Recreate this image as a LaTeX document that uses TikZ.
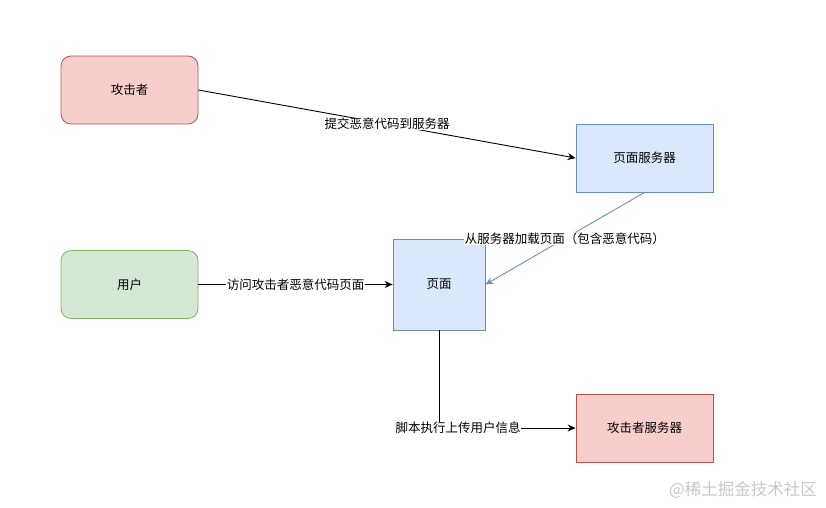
\documentclass[tikz,border=0pt]{standalone}
\usepackage{fontspec}
\setmainfont{Noto Sans CJK SC}
\usepackage{xcolor}
\usetikzlibrary{arrows.meta, positioning}

\definecolor{RedFill}{HTML}{F8CECC}
\definecolor{RedLine}{HTML}{B85450}
\definecolor{BlueFill}{HTML}{DAE8FC}
\definecolor{BlueLine}{HTML}{6C8EBF}
\definecolor{GreenFill}{HTML}{D5E8D4}
\definecolor{GreenLine}{HTML}{82B366}

\begin{document}
\begin{tikzpicture}[x=1pt, y=-1pt, font=\fontsize{12.5}{14}\selectfont,
  box/.style={draw, line width=0.8pt, minimum width=137pt, minimum height=68pt, inner sep=0pt},
  actor/.style={box, rounded corners=10pt},
  arr/.style={-{Stealth[length=8pt, width=7pt]}, line width=0.9pt},
  lbl/.style={fill=white, inner sep=0.5pt}]
  \useasboundingbox (0,0) rectangle (826,507);

  % Nodes
  \node[actor, fill=RedFill, draw=RedLine] (attacker) at (129.5,90) {攻击者};
  \node[box, fill=BlueFill, draw=BlueLine] (pageserver) at (644.5,158) {页面服务器};
  \node[actor, fill=GreenFill, draw=GreenLine] (user) at (129.5,284.5) {用户};
  \node[box, fill=BlueFill, draw=BlueLine, minimum width=92pt, minimum height=91pt] (page) at (439,284.5) {页面};
  \node[box, fill=RedFill, draw=RedLine] (evilserver) at (644.5,428) {攻击者服务器};

  % Edges
  \draw[arr] (attacker.east) -- node[lbl] {提交恶意代码到服务器} (pageserver.west);
  \draw[arr, BlueLine] (pageserver.south) -- node[lbl, text=black] {从服务器加载页面（包含恶意代码）} (page.east);
  \draw[arr] (user.east) -- node[lbl] {访问攻击者恶意代码页面} (page.west);
  \draw[arr] (page.south) |- node[lbl, pos=0.57] {脚本执行上传用户信息} (evilserver.west);

  % Watermark
  \node[text=black!22, font=\fontsize{16.5}{18}\selectfont] (mark) at (743,490) {@稀土掘金技术社区};
\end{tikzpicture}
\end{document}
